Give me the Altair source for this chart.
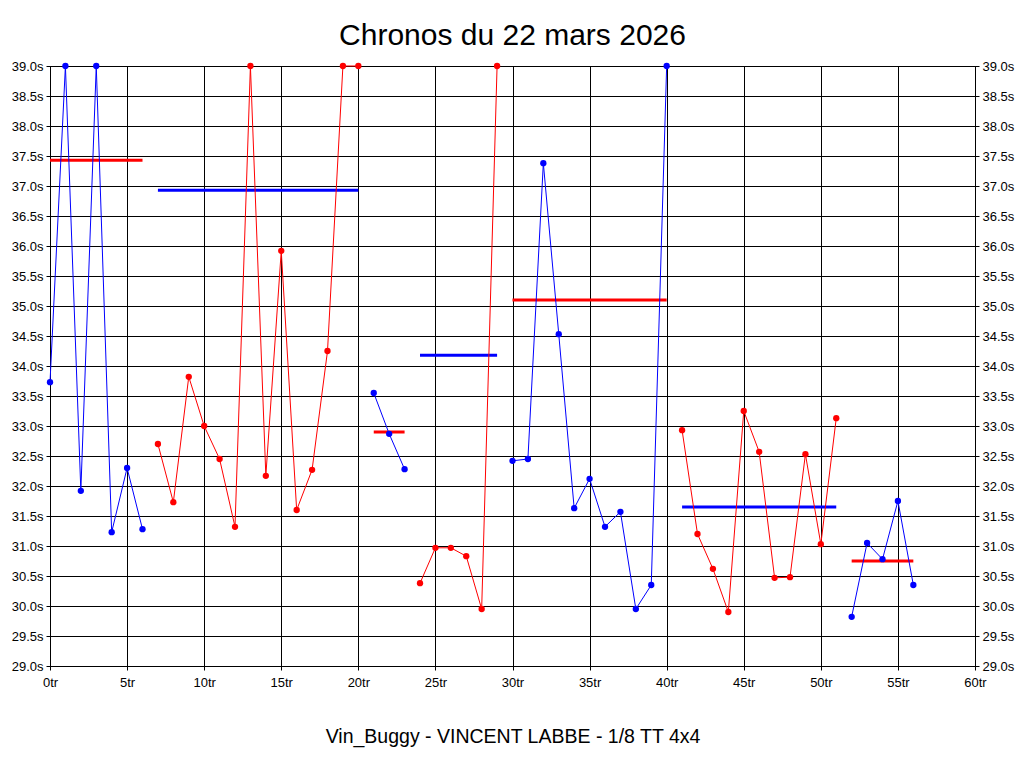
import altair as alt
import pandas as pd

# Lap numbers (tr) and lap times (s)
tours = list(range(0, 57))
times = [33.73, 39.0, 31.92, 39.0, 31.23, 32.30, 31.28,
         32.70, 31.73, 33.82, 33.00, 32.45, 31.32, 39.0, 32.17, 35.92, 31.60, 32.27, 34.25, 39.0, 39.0,
         33.55, 32.87, 32.28,
         30.38, 30.97, 30.97, 30.83, 29.95, 39.0,
         32.42, 32.45, 37.38, 34.53, 31.63, 32.12, 31.32, 31.57, 29.95, 30.35, 39.0,
         32.93, 31.20, 30.62, 29.90, 33.25, 32.57, 30.47, 30.48, 32.53, 31.03, 33.13,
         29.82, 31.05, 30.78, 31.75, 30.35]
seg_sizes = [7, 14, 3, 6, 11, 11, 5]
seg_colors = ["blue", "red", "blue", "red", "blue", "red", "blue"]

# Average line per segment
avg_start = [0, 7, 21, 24, 30, 41, 52]
avg_end = [6, 20, 23, 29, 40, 51, 56]
avg_value = [37.43, 36.93, 32.90, 34.18, 35.10, 31.65, 30.75]
avg_colors = ["red", "blue", "red", "blue", "red", "blue", "red"]

seg_ids, colors = [], []
for i, (n, c) in enumerate(zip(seg_sizes, seg_colors)):
    seg_ids += [i] * n
    colors += [c] * n

df = pd.DataFrame({"tr": tours, "t": times, "seg": seg_ids, "col": colors})
avg = pd.DataFrame({"x1": avg_start, "x2": avg_end, "t": avg_value, "col": avg_colors})

FONT = "Liberation Sans"
color_scale = alt.Scale(domain=["blue", "red"], range=["#0000ff", "#ff0000"])
xscale = alt.Scale(domain=[0, 60], nice=False)
yscale = alt.Scale(domain=[29, 39], nice=False, zero=False)
xvals = list(range(0, 61, 5))
yvals = [29 + 0.5 * i for i in range(21)]

x_axis = alt.Axis(values=xvals, labelExpr="datum.value + 'tr'", grid=True,
                  title="Vin_Buggy - VINCENT LABBE - 1/8 TT 4x4", titleFont=FONT,
                  titleFontSize=19.5, titleFontWeight="normal", titlePadding=38,
                  titleColor="black", labelPadding=6, labelFlush=False)
y_left = alt.Axis(values=yvals, labelExpr="format(datum.value, '.1f') + 's'", grid=True,
                  title="", orient="left", labelOverlap=False, labelPadding=3)
y_right = alt.Axis(values=yvals, labelExpr="format(datum.value, '.1f') + 's'", grid=False,
                   title="", orient="right", labelOverlap=False, labelPadding=3)

base = alt.Chart(df)
lines = base.mark_line(strokeWidth=1).encode(
    x=alt.X("tr:Q", scale=xscale, axis=x_axis),
    y=alt.Y("t:Q", scale=yscale, axis=y_left),
    detail="seg:N",
    color=alt.Color("col:N", scale=color_scale, legend=None),
)
points = base.mark_point(filled=True, opacity=1, size=40, shape="circle").encode(
    x=alt.X("tr:Q", scale=xscale),
    y=alt.Y("t:Q", scale=yscale, axis=y_right),
    color=alt.Color("col:N", scale=color_scale, legend=None),
)
avg_lines = alt.Chart(avg).mark_rule(strokeWidth=3).encode(
    x=alt.X("x1:Q", scale=xscale),
    x2="x2:Q",
    y=alt.Y("t:Q", scale=yscale, axis=None),
    color=alt.Color("col:N", scale=color_scale, legend=None),
)

chart = alt.layer(avg_lines, lines, points).resolve_axis(y="independent").properties(
    width=925, height=600,
    title=alt.TitleParams("Chronos du 22 mars 2026", font=FONT, fontSize=30,
                          fontWeight="normal", color="black", offset=9, anchor="middle"),
    autosize=alt.AutoSizeParams(type="none"),
    padding={"left": 42, "top": 58, "right": 41, "bottom": 90},
).configure_view(stroke="black", strokeWidth=1).configure_axis(
    gridColor="black", gridOpacity=1, gridWidth=1,
    domainColor="black", tickColor="black", tickSize=4,
    labelColor="black", labelFont=FONT, labelFontSize=13,
)

chart.save("out.html", embed_options={"renderer": "svg", "actions": False})
